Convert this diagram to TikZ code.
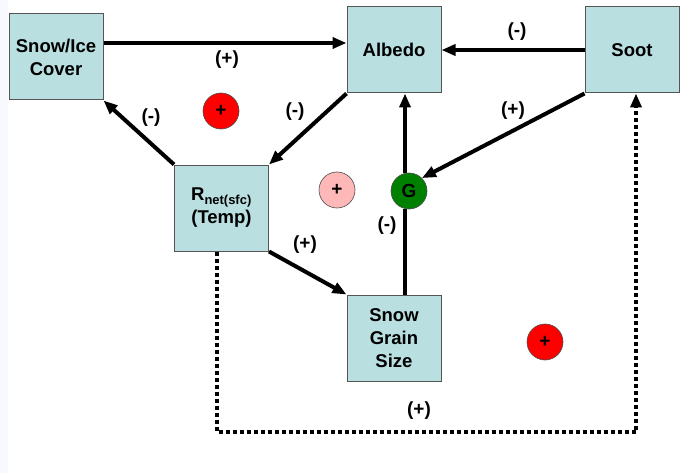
\documentclass[tikz,border=0pt]{standalone}
\usepackage{fontspec}
\setmainfont{Liberation Sans}
\usetikzlibrary{arrows.meta}
\definecolor{boxfill}{HTML}{B9DFE1}
\definecolor{boxline}{HTML}{555555}
\definecolor{signred}{HTML}{FF0000}
\definecolor{signpink}{HTML}{FFB8B8}
\definecolor{signgreen}{HTML}{008000}
\definecolor{sidestrip}{HTML}{F8F8FF}
\tikzset{
  varbox/.style={draw=boxline, line width=1pt, fill=boxfill, minimum width=94pt, minimum height=86pt,
    inner sep=0pt, align=center, font=\fontsize{18.5}{23}\selectfont\bfseries},
  loopsign/.style={circle, draw=black!70, line width=0.6pt, minimum size=36pt, inner sep=0pt,
    font=\fontsize{19}{19}\selectfont\bfseries},
  link/.style={line width=4pt, -{Triangle[length=14pt,width=11pt]}},
  dotlink/.style={line width=4pt, dash pattern=on 4pt off 3pt, -{Triangle[length=14pt,width=11pt]}},
  sign/.style={font=\fontsize{19}{19}\selectfont\bfseries, inner sep=0pt}
}
\begin{document}
\begin{tikzpicture}[x=1pt, y=-1pt]
\useasboundingbox (0,0) rectangle (692,473);
\fill[white] (0,0) rectangle (692,473);
\fill[sidestrip] (0,0) rectangle (8,473);

% variables
\node[varbox] (ice) at (56,57) {Snow/Ice\\Cover};
\node[varbox] (alb) at (394,50) {Albedo};
\node[varbox] (soot) at (632,50) {Soot};
\node[varbox] (rnet) at (221.5,208) {R\textsubscript{net(sfc)}\\(Temp)};
\node[varbox] (grain) at (394,338) {Snow\\Grain\\Size};

% loop markers
\node[loopsign, fill=signred] (loopa) at (221,111) {+};
\node[loopsign, fill=signpink] (loopb) at (337,190) {+};
\node[loopsign, fill=signred] (loopc) at (545,342) {+};
\node[loopsign, fill=signgreen] (gnode) at (409,191) {G};

% connectors
\draw[link] (ice.east |- 0,43) -- (alb.west |- 0,43);
\draw[link] (soot.west) -- (alb.east);
\draw[link] (alb.south west) -- (rnet.north east);
\draw[link] (rnet.north west) -- (ice.south east);
\draw[link] (soot.south west) -- (gnode.north east);
\draw[line width=4pt] (grain.north -| 405,0) -- (405,209);
\draw[link] (405,173) -- (alb.south -| 405,0);
\draw[link] (rnet.south east) -- (grain.north west);
\coordinate (dl) at (217,432);
\coordinate (dr) at (636,432);
\draw[dotlink] (rnet.south -| 217,0) -- (dl) -- (dr) -- (soot.south -| 636,0);

% link signs
\node[sign] at (227,60) {(+)};
\node[sign] at (517,32) {(-)};
\node[sign] at (295,112) {(-)};
\node[sign] at (151,118) {(-)};
\node[sign] at (513,111) {(+)};
\node[sign] at (387,226) {(-)};
\node[sign] at (305,245) {(+)};
\node[sign] at (419,411) {(+)};
\end{tikzpicture}
\end{document}
